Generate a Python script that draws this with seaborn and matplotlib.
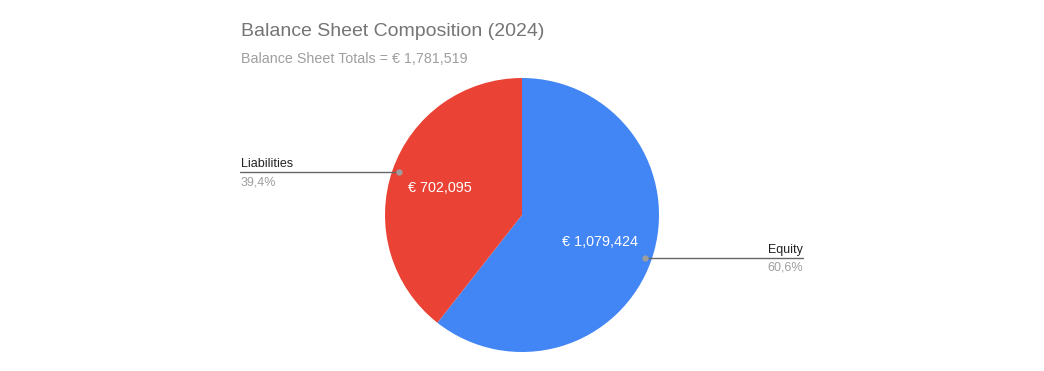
import numpy as np
import seaborn as sns
import matplotlib.pyplot as plt

sns.set_style("white")
plt.rcParams['font.family'] = ['Liberation Sans', 'DejaVu Sans']

labels = ['Equity', 'Liabilities']
values = [1079424, 702095]
pct_text = ['60,6%', '39,4%']
colors = ['#4285f4', '#ea4335']
title = 'Balance Sheet Composition (2024)'
subtitle = 'Balance Sheet Totals = € 1,781,519'

W, H = 1044, 371
fig = plt.figure(figsize=(W / 100, H / 100), dpi=100)
ax = fig.add_axes([0, 0, 1, 1])


def Y(py):
    return H - py


cx, cy, r = 522, Y(215), 137
vals_iter = iter(values)
wedges, _, autotexts = ax.pie(
    values, colors=sns.color_palette(colors), startangle=90, counterclock=False,
    center=(cx, cy), radius=r, frame=True,
    autopct=lambda p: '€ {:,}'.format(next(vals_iter)), pctdistance=0.6,
    wedgeprops=dict(linewidth=0),
    textprops=dict(color='white', fontsize=10.4))
autotexts[1].set_x(autotexts[1].get_position()[0] - 4)
ax.set_xlim(0, W)
ax.set_ylim(0, H)
ax.set_aspect('auto')
ax.axis('off')

# leader lines with labels
for w, lab, pt in zip(wedges, labels, pct_text):
    mid = np.deg2rad((w.theta1 + w.theta2) / 2)
    dx, dy = 0.95 * r * np.cos(mid), 0.95 * r * np.sin(mid)
    px, py = cx + dx, cy + dy
    ax.plot(px, py, 'o', color='#9e9e9e', markersize=3.5, zorder=5)
    if dx < 0:
        end, ha, tx = 240, 'left', 241
    else:
        end, ha, tx = 803, 'right', 803
    ax.plot([px, end], [py, py], color='#666666', linewidth=1, zorder=4)
    ax.text(tx, py + 8, lab, ha=ha, va='center', fontsize=9, color='#222222')
    ax.text(tx, py - 10, pt, ha=ha, va='center', fontsize=9, color='#9e9e9e')

ax.text(241, Y(32), title, ha='left', va='center', fontsize=14, color='#757575')
ax.text(241, Y(59), subtitle, ha='left', va='center', fontsize=10.3, color='#9e9e9e')

fig.savefig('out.png', dpi=100, facecolor='white')
